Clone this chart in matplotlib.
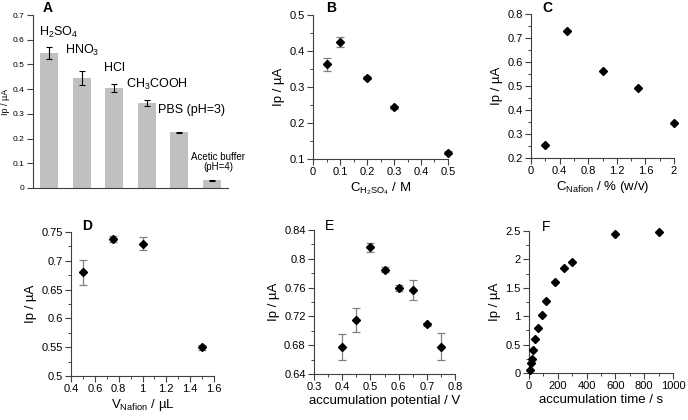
'''
Six-panel figure: optimisation of stripping conditions (Ip vs. parameters).
'''

import matplotlib
matplotlib.use('Agg')
import matplotlib.pyplot as plt
from matplotlib.ticker import MultipleLocator
import numpy as np

plt.rcParams['font.family'] = ['Liberation Sans', 'DejaVu Sans']
plt.rcParams['mathtext.fontset'] = 'custom'
plt.rcParams['mathtext.rm'] = 'Liberation Sans'
plt.rcParams['mathtext.it'] = 'Liberation Sans'

#=============================================
#   1. data

# A: supporting electrolyte
a_names = ['H$_2$SO$_4$', 'HNO$_3$', 'HCl', 'CH$_3$COOH', 'PBS (pH=3)', 'Acetic buffer\n(pH=4)']
a_ip = [0.545, 0.445, 0.405, 0.345, 0.226, 0.032]
a_err = [0.025, 0.030, 0.015, 0.012, 0.002, 0.002]

# B: H2SO4 concentration
b_conc = [0.05, 0.1, 0.2, 0.3, 0.5]
b_ip = [0.363, 0.424, 0.326, 0.244, 0.118]
b_err = [0.018, 0.014, 0.005, 0.004, 0.004]

# C: Nafion concentration
c_conc = [0.2, 0.5, 1.0, 1.5, 2.0]
c_ip = [0.255, 0.728, 0.562, 0.493, 0.347]

# D: Nafion volume
d_vol = [0.5, 0.75, 1.0, 1.5]
d_ip = [0.680, 0.738, 0.730, 0.550]
d_err = [0.022, 0.005, 0.012, 0.004]

# E: accumulation potential
e_pot = [0.40, 0.45, 0.50, 0.55, 0.60, 0.65, 0.70, 0.75]
e_ip = [0.678, 0.715, 0.816, 0.785, 0.759, 0.757, 0.709, 0.678]
e_err = [0.018, 0.017, 0.006, 0.003, 0.004, 0.014, 0.002, 0.019]

# F: accumulation time
f_time = [5, 12, 18, 30, 45, 65, 90, 120, 180, 240, 300, 600, 900]
f_ip = [0.06, 0.175, 0.245, 0.41, 0.59, 0.80, 1.02, 1.27, 1.61, 1.85, 1.96, 2.45, 2.49]

#=============================================
#   2. plot

W, H = 688., 420.
fig = plt.figure(figsize=(6.88, 4.2), dpi=100)
LBL = 9.5

def add_ax(x0, x1, ytop, ybot):
    return fig.add_axes([x0 / W, (H - ybot) / H, (x1 - x0) / W, (ybot - ytop) / H])

def style(ax, xmaj, ymaj, xmin=None, ymin=None):
    for s in ['top', 'right']:
        ax.spines[s].set_visible(False)
    for s in ['left', 'bottom']:
        ax.spines[s].set_color('#404040')
        ax.spines[s].set_linewidth(0.8)
    ax.xaxis.set_major_locator(MultipleLocator(xmaj))
    ax.yaxis.set_major_locator(MultipleLocator(ymaj))
    if xmin:
        ax.xaxis.set_minor_locator(MultipleLocator(xmin))
    if ymin:
        ax.yaxis.set_minor_locator(MultipleLocator(ymin))
    ax.tick_params(which='major', direction='out', length=4, width=0.8, color='#404040',
                   labelsize=8, pad=2)
    ax.tick_params(which='minor', direction='out', length=2.5, width=0.7, color='#404040')
    ax.xaxis.set_major_formatter(plt.FuncFormatter(lambda v, p: '%g' % round(v, 6)))
    ax.yaxis.set_major_formatter(plt.FuncFormatter(lambda v, p: '%g' % round(v, 6)))

def scatter(ax, x, y, err=None):
    if err is not None:
        ax.errorbar(x, y, yerr=err, fmt='none', ecolor='#808080', elinewidth=0.9,
                    capsize=3, capthick=0.9, zorder=2, clip_on=False)
    ax.plot(x, y, 'D', color='k', markersize=4.5, zorder=3, clip_on=False)

def letter(ax, s, x, dy_px, bold=True):
    # panel letter, dy_px pixels above the top of the axes
    h = ax.get_position().height * H
    ax.text(x, 1.0 + dy_px / h, s, transform=ax.transAxes, fontsize=10,
            fontweight='bold' if bold else 'normal', va='center')

# ---- A
ax = add_ax(33, 228, 15, 188)
xa = np.arange(len(a_ip))
ax.bar(xa, a_ip, width=0.56, color='#c0c0c0', zorder=1)
ax.errorbar(xa, a_ip, yerr=a_err, fmt='none', ecolor='k', elinewidth=0.8,
            capsize=2, capthick=0.8, zorder=2)
style(ax, 1, 0.1)
ax.set_xticks([])
ax.set_xlim(-0.5, 5.5)
ax.set_ylim(0, 0.7)
ax.tick_params(axis='y', labelsize=6)
ax.set_ylabel('Ip / µA', fontsize=6.5, labelpad=2)
lab_dx = [0.3, 0, 0, 0.3, 0.38, 0.2]
lab_y = [0.598, 0.525, 0.462, 0.388, 0.29, 0.065]
for i, name in enumerate(a_names):
    fs = 7 if i == 5 else 9
    ax.text(xa[i] + lab_dx[i], lab_y[i], name, ha='center', va='bottom',
            fontsize=fs, linespacing=1.05)
letter(ax, 'A', 0.05, 7)

# ---- B
ax = add_ax(313, 448, 15, 159)
scatter(ax, b_conc, b_ip, b_err)
ax.set_xlim(0, 0.5)
ax.set_ylim(0.1, 0.5)
style(ax, 0.1, 0.1, 0.05, 0.05)
ax.set_ylabel('Ip / µA', fontsize=LBL, labelpad=3)
ax.set_xlabel('C$_{\\mathregular{H_2SO_4}}$ / M', fontsize=LBL, labelpad=2)
letter(ax, 'B', 0.1, 7.5)

# ---- C
ax = add_ax(531, 674, 14, 158)
scatter(ax, c_conc, c_ip)
ax.set_xlim(0, 2)
ax.set_ylim(0.2, 0.8)
style(ax, 0.4, 0.1, 0.2, 0.05)
ax.set_ylabel('Ip / µA', fontsize=LBL, labelpad=3)
ax.set_xlabel('C$_{\\mathregular{Nafion}}$ / % (w/v)', fontsize=LBL, labelpad=2)
letter(ax, 'C', 0.08, 6.5)

# ---- D
ax = add_ax(71, 214, 232, 376)
scatter(ax, d_vol, d_ip, d_err)
ax.set_xlim(0.4, 1.6)
ax.set_ylim(0.5, 0.75)
style(ax, 0.2, 0.05, 0.1, 0.025)
ax.set_ylabel('Ip / µA', fontsize=LBL, labelpad=3)
ax.set_xlabel('V$_{\\mathregular{Nafion}}$ / µL', fontsize=LBL, labelpad=2)
letter(ax, 'D', 0.08, 6)

# ---- E
ax = add_ax(314, 455, 230, 374)
scatter(ax, e_pot, e_ip, e_err)
ax.set_xlim(0.3, 0.8)
ax.set_ylim(0.64, 0.84)
style(ax, 0.1, 0.04, 0.05, 0.02)
ax.set_ylabel('Ip / µA', fontsize=LBL, labelpad=3)
ax.set_xlabel('accumulation potential / V', fontsize=LBL, labelpad=2)
letter(ax, 'E', 0.08, 4, bold=False)

# ---- F
ax = add_ax(529, 673, 231, 373)
scatter(ax, f_time, f_ip)
ax.set_xlim(0, 1000)
ax.set_ylim(0, 2.5)
style(ax, 200, 0.5, 100, 0.25)
ax.set_ylabel('Ip / µA', fontsize=LBL, labelpad=3)
ax.set_xlabel('accumulation time / s', fontsize=LBL, labelpad=2)
letter(ax, 'F', 0.09, 4, bold=False)

plt.savefig('out.png', dpi=100)
